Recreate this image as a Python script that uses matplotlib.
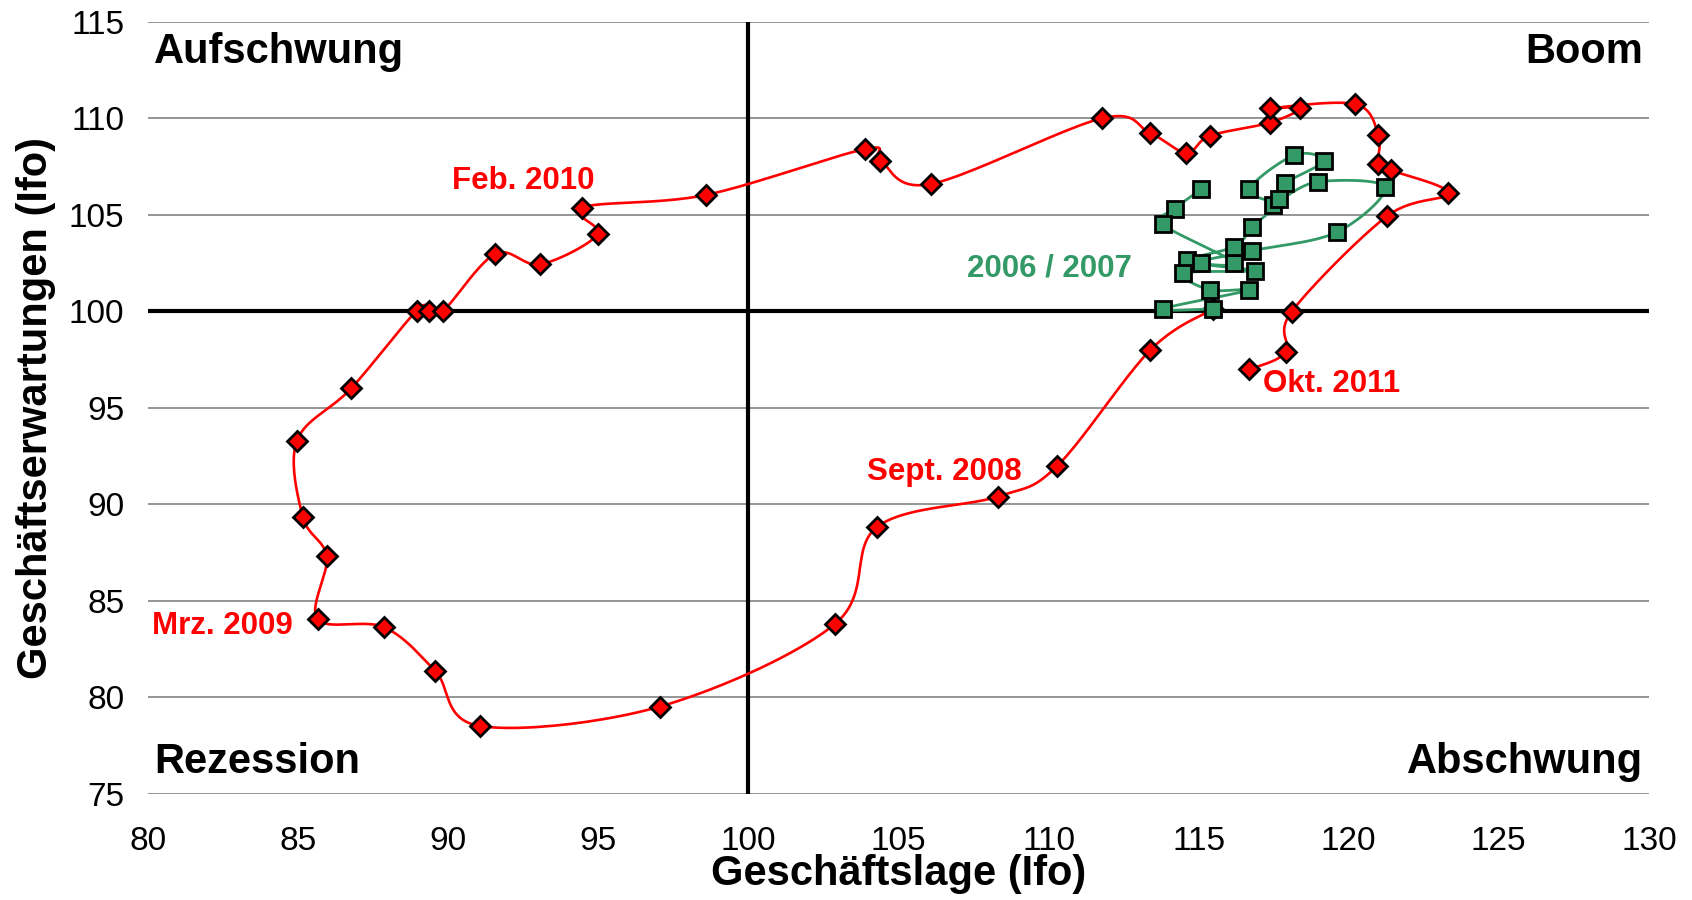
import numpy as np
import matplotlib
matplotlib.use("Agg")
import matplotlib.pyplot as plt

plt.rcParams['font.family'] = ['Liberation Sans', 'DejaVu Sans']

# Ifo Konjunkturuhr 2008 - Okt. 2011 (rot)
lage_rot = [115.49, 113.39, 110.27, 108.30, 104.28, 102.89, 97.06, 91.06, 89.56, 87.86,
            85.65, 85.95, 85.16, 84.96, 86.77, 88.95, 89.36, 89.84, 91.57, 93.07,
            94.98, 94.45, 98.58, 103.89, 104.39, 106.08, 111.78, 113.39, 114.59, 115.38,
            117.38, 118.38, 117.38, 120.21, 120.99, 120.99, 121.40, 123.32, 121.28, 118.10,
            117.90, 116.69]
erw_rot = [100.12, 97.99, 91.96, 90.40, 88.82, 83.81, 79.53, 78.52, 81.39, 83.64,
           84.05, 87.30, 89.33, 93.30, 96.01, 100.03, 100.03, 100.03, 102.97, 102.43,
           103.98, 105.37, 106.02, 108.40, 107.80, 106.59, 109.99, 109.22, 108.21, 109.09,
           109.77, 110.51, 110.51, 110.73, 109.13, 107.63, 107.31, 106.11, 104.93, 99.98,
           97.88, 96.99]

# 2006 / 2007 (gruen)
lage_gruen = [115.08, 114.20, 113.80, 116.19, 114.61, 116.19, 116.79, 117.49, 116.68, 118.19,
              119.18, 117.88, 117.69, 118.99, 121.21, 119.60, 116.79, 115.08, 116.88, 114.49,
              115.38, 116.68, 113.80, 115.49]
erw_gruen = [106.31, 105.30, 104.50, 102.51, 102.65, 103.35, 104.38, 105.50, 106.31, 108.09,
             107.78, 106.62, 105.80, 106.71, 106.42, 104.09, 103.14, 102.51, 102.10, 101.97,
             101.10, 101.10, 100.12, 100.12]

quadranten = ["Aufschwung", "Boom", "Rezession", "Abschwung"]
labels_rot = ["Feb. 2010", "Sept. 2008", "Mrz. 2009", "Okt. 2011"]
labels_rot_x = [90.14, 103.94, 80.14, 117.13]
labels_rot_y = [106.75, 91.7, 83.7, 96.22]

rot = '#ff0000'
gruen = '#339966'


def smooth(x, y, n=24):
    # Catmull-Rom Kurve durch die Punkte (wie Excel "geglaettete Linie")
    pts = np.column_stack([x, y])
    p = np.vstack([pts[0], pts, pts[-1]])
    t = np.linspace(0, 1, n, endpoint=False)[:, None]
    out = []
    for i in range(1, len(p) - 2):
        p0, p1, p2, p3 = p[i-1], p[i], p[i+1], p[i+2]
        seg = 0.5*((2*p1) + (-p0 + p2)*t + (2*p0 - 5*p1 + 4*p2 - p3)*t**2
                   + (-p0 + 3*p1 - 3*p2 + p3)*t**3)
        out.append(seg)
    out.append(pts[-1:])
    c = np.vstack(out)
    return c[:, 0], c[:, 1]


fig = plt.figure(figsize=(16.92, 9.0), dpi=100)
ax = fig.add_axes([0.0875, 0.1178, 0.887, 0.8582])

ax.set_xlim(80, 130)
ax.set_ylim(75, 115)
ax.set_xticks(np.arange(80, 131, 5))
ax.set_yticks(np.arange(75, 116, 5))
for s in ax.spines.values():
    s.set_visible(False)
ax.tick_params(length=0, labelsize=24)
ax.tick_params(axis='y', pad=17)
ax.tick_params(axis='x', pad=23)
ax.yaxis.grid(True, color='#8c8c8c', lw=1.3)
ax.set_axisbelow(True)

ax.axvline(100, color='black', lw=3, zorder=2)
ax.axhline(100, color='black', lw=3, zorder=2)

sx, sy = smooth(lage_rot, erw_rot)
ax.plot(sx, sy, color=rot, lw=1.9, zorder=3)
ax.plot(lage_rot, erw_rot, ls='none', marker='D', ms=9.8, mfc=rot, mec='black', mew=2, zorder=4)

gx, gy = smooth(lage_gruen, erw_gruen)
ax.plot(gx, gy, color=gruen, lw=2, zorder=5)
ax.plot(lage_gruen, erw_gruen, ls='none', marker='s', ms=11, mfc=gruen, mec='black', mew=2, zorder=6)

for txt, x, y in zip(labels_rot, labels_rot_x, labels_rot_y):
    ax.text(x, y, txt, color=rot, fontsize=22.5, fontweight='bold', ha='left', va='center', zorder=7)
ax.text(107.28, 102.2, "2006 / 2007", color=gruen, fontsize=22.5, fontweight='bold',
        ha='left', va='center', zorder=7)

ax.text(80.2, 113.4, quadranten[0], fontsize=30, fontweight='bold', ha='left', va='center')
ax.text(129.8, 113.4, quadranten[1], fontsize=30, fontweight='bold', ha='right', va='center')
ax.text(80.2, 76.65, quadranten[2], fontsize=30, fontweight='bold', ha='left', va='center')
ax.text(129.8, 76.65, quadranten[3], fontsize=30, fontweight='bold', ha='right', va='center')

ax.set_xlabel("Geschäftslage (Ifo)", fontsize=30, fontweight='bold', va='center')
ax.xaxis.set_label_coords(0.5, -0.1036)
ax.set_ylabel("Geschäftserwartungen (Ifo)", fontsize=30, fontweight='bold', va='center')
ax.yaxis.set_label_coords(-0.0746, 0.5)

fig.savefig("out.png", dpi=100)
